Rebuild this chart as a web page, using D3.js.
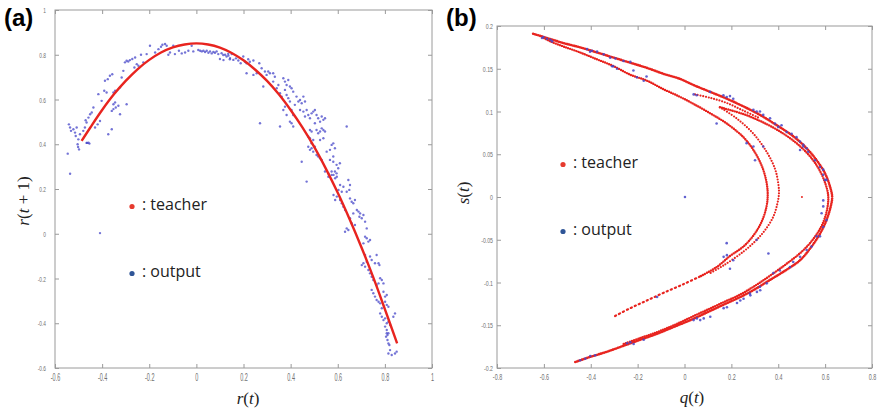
<!DOCTYPE html>
<html><head><meta charset="utf-8">
<script src="https://cdn.jsdelivr.net/npm/d3@7"></script>
<style>body{margin:0;background:#fff}svg{display:block}</style>
</head><body>
<svg id="fig" width="881" height="415"></svg>
<script>
// ---------- Panel (a): logistic-type return map r(t) -> r(t+1) ----------
const rTicks = [-0.6, -0.4, -0.2, 0, 0.2, 0.4, 0.6, 0.8, 1];

// teacher curve (red line)
const teacherA = [[-0.487,0.415],[-0.45,0.475],[-0.4,0.553],[-0.35,0.623],[-0.3,0.683],[-0.25,0.735],
  [-0.2,0.777],[-0.15,0.81],[-0.1,0.833],[-0.05,0.846],[0,0.851],[0.05,0.846],[0.1,0.832],[0.15,0.808],
  [0.2,0.775],[0.25,0.733],[0.3,0.683],[0.35,0.623],[0.4,0.553],[0.45,0.475],[0.5,0.388],[0.55,0.29],
  [0.6,0.183],[0.65,0.066],[0.7,-0.059],[0.75,-0.193],[0.8,-0.337],[0.852,-0.49]];

// network output (blue points)
const outputA = [
 [-0.541,0.489],[-0.536,0.475],[-0.532,0.460],[-0.522,0.467],[-0.515,0.452],[-0.508,0.475],[-0.512,0.437],
 [-0.501,0.422],[-0.494,0.445],[-0.504,0.400],[-0.498,0.377],[-0.546,0.358],[-0.536,0.268],[-0.466,0.406],
 [-0.458,0.407],[-0.454,0.403],[-0.480,0.460],[-0.473,0.475],[-0.466,0.497],[-0.470,0.507],[-0.458,0.519],
 [-0.451,0.534],[-0.444,0.542],[-0.437,0.564],[-0.430,0.475],[-0.419,0.489],[-0.409,0.504],[-0.416,0.624],
 [-0.402,0.594],[-0.391,0.639],[-0.381,0.631],[-0.388,0.684],[-0.376,0.691],[-0.367,0.706],[-0.357,0.713],
 [-0.352,0.631],[-0.345,0.639],[-0.359,0.549],[-0.352,0.557],[-0.342,0.564],[-0.359,0.467],[-0.374,0.445],
 [-0.324,0.654],[-0.317,0.698],[-0.310,0.728],[-0.303,0.766],[-0.296,0.773],[-0.289,0.770],[-0.282,0.776],
 [-0.272,0.781],[-0.260,0.788],[-0.253,0.758],[-0.263,0.743],[-0.246,0.751],[-0.235,0.800],[-0.225,0.766],
 [-0.211,0.803],[-0.197,0.840],[-0.175,0.810],[-0.161,0.825],[-0.150,0.836],[-0.144,0.845],[-0.133,0.848],
 [-0.126,0.840],[-0.119,0.800],[-0.112,0.810],[-0.098,0.840],[-0.091,0.803],[-0.074,0.818],[-0.062,0.806],
 [-0.048,0.810],[-0.034,0.818],[-0.020,0.840],[-0.013,0.815],[0.008,0.821],[0.016,0.818],[0.023,0.815],
 [0.030,0.818],[0.037,0.812],[0.044,0.818],[0.051,0.809],[0.058,0.815],[0.065,0.806],[0.072,0.812],
 [0.079,0.809],[0.086,0.815],[0.093,0.803],[0.100,0.781],[0.115,0.776],[0.122,0.800],[0.136,0.796],
 [0.143,0.785],[0.150,0.803],[-0.296,0.579],[-0.324,0.534],[-0.331,0.572],[-0.345,0.587],[-0.352,0.579],
 [-0.409,0.003],[-0.502,0.388],[-0.464,0.406],
 [0.107,0.807],[0.114,0.799],[0.128,0.792],[0.135,0.804],[0.142,0.780],[0.157,0.777],[0.168,0.784],
 [0.178,0.774],[0.188,0.762],[0.199,0.792],[0.206,0.769],[0.213,0.762],[0.220,0.780],[0.227,0.769],
 [0.242,0.774],[0.213,0.717],[0.242,0.710],[0.256,0.717],[0.267,0.762],[0.277,0.740],[0.291,0.725],
 [0.298,0.710],[0.305,0.725],[0.312,0.717],[0.326,0.717],[0.333,0.702],[0.284,0.658],[0.326,0.680],
 [0.341,0.650],[0.348,0.665],[0.355,0.628],[0.362,0.613],[0.369,0.695],[0.376,0.680],[0.383,0.665],
 [0.390,0.687],[0.397,0.658],[0.404,0.650],[0.411,0.635],[0.376,0.643],[0.383,0.620],[0.390,0.606],
 [0.397,0.591],[0.369,0.553],[0.376,0.568],[0.383,0.531],[0.404,0.553],[0.411,0.531],[0.418,0.576],
 [0.425,0.613],[0.433,0.591],[0.440,0.598],[0.447,0.583],[0.454,0.613],[0.461,0.591],[0.440,0.553],
 [0.454,0.546],[0.461,0.524],[0.468,0.553],[0.475,0.531],[0.482,0.516],[0.489,0.538],[0.496,0.546],
 [0.503,0.553],[0.510,0.531],[0.517,0.516],[0.525,0.501],[0.532,0.524],[0.539,0.509],[0.546,0.516],
 [0.503,0.494],[0.510,0.464],[0.517,0.449],[0.525,0.457],[0.532,0.471],[0.539,0.464],[0.546,0.457],
 [0.489,0.457],[0.482,0.464],[0.475,0.434],[0.411,0.479],[0.404,0.494],[0.397,0.501],[0.355,0.479],
 [0.270,0.494],[0.482,0.427],[0.496,0.419],[0.489,0.404],[0.475,0.389],[0.482,0.375],[0.489,0.382],
 [0.496,0.367],[0.503,0.389],[0.510,0.352],[0.517,0.345],[0.525,0.337],[0.532,0.330],[0.553,0.367],
 [0.567,0.375],[0.574,0.397],[0.581,0.404],[0.588,0.382],[0.581,0.345],[0.567,0.330],[0.581,0.322],
 [0.595,0.308],[0.602,0.293],[0.588,0.278],[0.595,0.270],[0.609,0.315],[0.447,0.322],[0.546,0.278],
 [0.560,0.255],[0.574,0.263],[0.638,0.479],[0.525,0.419],[0.539,0.427],
 [0.468,0.233],[0.560,0.270],[0.574,0.278],[0.582,0.263],[0.589,0.248],[0.596,0.255],[0.610,0.218],
 [0.603,0.196],[0.617,0.188],[0.624,0.210],[0.645,0.240],[0.652,0.218],[0.649,0.196],[0.638,0.188],
 [0.582,0.173],[0.589,0.151],[0.596,0.166],[0.610,0.151],[0.617,0.136],[0.624,0.121],[0.631,0.106],
 [0.652,0.158],[0.659,0.143],[0.666,0.136],[0.673,0.151],[0.681,0.106],[0.688,0.099],[0.692,0.076],
 [0.695,0.091],[0.702,0.069],[0.709,0.084],[0.716,0.054],[0.723,0.024],[0.666,0.091],[0.652,0.069],
 [0.659,0.047],[0.638,0.024],[0.631,0.009],[0.645,0.017],[0.673,0.039],[0.716,-0.013],[0.723,-0.020],
 [0.730,-0.035],[0.737,-0.028],[0.709,-0.043],[0.716,-0.095],[0.737,-0.102],[0.744,-0.117],[0.723,-0.125],
 [0.709,-0.132],[0.702,-0.140],[0.716,-0.147],[0.765,-0.095],[0.773,-0.132],[0.777,-0.140],[0.758,-0.132],
 [0.730,-0.162],[0.737,-0.177],[0.744,-0.192],[0.751,-0.207],[0.765,-0.229],[0.773,-0.222],[0.780,-0.199],
 [0.787,-0.207],[0.794,-0.222],[0.744,-0.251],[0.751,-0.266],[0.758,-0.281],[0.765,-0.296],[0.773,-0.304],
 [0.780,-0.311],[0.794,-0.259],[0.801,-0.281],[0.808,-0.274],[0.801,-0.304],[0.808,-0.318],[0.815,-0.326],
 [0.787,-0.333],[0.780,-0.356],[0.787,-0.371],[0.794,-0.386],[0.801,-0.378],[0.808,-0.400],[0.815,-0.393],
 [0.822,-0.408],[0.843,-0.356],[0.836,-0.371],[0.801,-0.415],[0.808,-0.430],[0.815,-0.445],[0.805,-0.460],
 [0.811,-0.475],[0.815,-0.490],[0.819,-0.497],[0.822,-0.520],[0.829,-0.542],[0.843,-0.535],[0.815,-0.535],
 [0.850,-0.527],[0.808,-0.445],[0.811,-0.453]];

// ---------- Panel (b): two-dimensional attractor q(t), s(t) ----------
const qTicks = [-0.8, -0.6, -0.4, -0.2, 0, 0.2, 0.4, 0.6, 0.8];
const sTicks = [-0.2, -0.15, -0.1, -0.05, 0, 0.05, 0.1, 0.15, 0.2];

// teacher strands (red)
const strandOuter = [[-0.646,0.191],[-0.587,0.186],[-0.516,0.180],[-0.445,0.175],[-0.373,0.169],[-0.302,0.163],
 [-0.231,0.157],[-0.160,0.151],[-0.089,0.144],[-0.018,0.138],[0.038,0.131],[0.109,0.123],[0.180,0.115],
 [0.251,0.106],[0.322,0.096],[0.393,0.084],[0.464,0.071],[0.521,0.057],[0.564,0.043],[0.599,0.028],
 [0.621,0.012],[0.630,0.000],[0.624,-0.011],[0.606,-0.027],[0.578,-0.043],[0.542,-0.058],[0.493,-0.074],
 [0.436,-0.085],[0.365,-0.097],[0.294,-0.109],[0.238,-0.117],[0.167,-0.126],[0.096,-0.135],[0.025,-0.144],
 [-0.046,-0.152],[-0.117,-0.160],[-0.189,-0.167],[-0.260,-0.174],[-0.331,-0.181],[-0.402,-0.187],[-0.466,-0.193]];
const strandOuter2 = [[0.151,0.105],[0.251,0.097],[0.322,0.089],[0.393,0.079],[0.464,0.066],[0.521,0.052],
 [0.564,0.037],[0.594,0.021],[0.613,0.002],[0.608,-0.015],[0.588,-0.032],[0.550,-0.049],[0.500,-0.064],
 [0.436,-0.078],[0.365,-0.092],[0.294,-0.105],[0.238,-0.114],[0.167,-0.123],[0.096,-0.132],[0.025,-0.141],
 [-0.046,-0.150],[-0.117,-0.158],[-0.189,-0.165],[-0.260,-0.172]];
const strandInner = [[-0.600,0.186],[-0.572,0.182],[-0.516,0.176],[-0.445,0.169],[-0.373,0.161],[-0.302,0.153],
 [-0.231,0.143],[-0.160,0.136],[-0.089,0.126],[-0.018,0.117],[0.038,0.109],[0.109,0.098],[0.180,0.086],
 [0.251,0.070],[0.294,0.055],[0.329,0.037],[0.348,0.020],[0.355,0.004],[0.350,-0.011],[0.329,-0.029],
 [0.294,-0.045],[0.251,-0.058],[0.194,-0.069],[0.137,-0.082],[0.066,-0.093]];
const strandInnerTail = [[0.066,-0.093],[-0.005,-0.102],[-0.089,-0.112],[-0.160,-0.121],[-0.231,-0.130],[-0.302,-0.140]];
const strandInner2 = [[0.151,0.105],[0.222,0.092],[0.294,0.074],[0.350,0.053],[0.386,0.033],[0.400,0.016],
 [0.403,0.004],[0.396,-0.008],[0.379,-0.023],[0.343,-0.039],[0.301,-0.052],[0.251,-0.064],[0.167,-0.080],
 [0.110,-0.089]];
const strandFold = [[0.045,0.120],[0.109,0.116],[0.180,0.110],[0.251,0.101],[0.322,0.092]];
const teacherLoneB = [[0.501,0.000]];

// network output (blue points)
const outputB = [
 [-0.608,0.186],[-0.587,0.185],[-0.572,0.184],[-0.565,0.182],[-0.602,0.187],[-0.416,0.173],[-0.403,0.170],
 [-0.395,0.171],[-0.373,0.170],[-0.345,0.167],[-0.317,0.163],[-0.304,0.153],[-0.295,0.162],[-0.260,0.159],
 [-0.231,0.158],[-0.309,0.153],[-0.288,0.150],[-0.218,0.148],[-0.203,0.140],[-0.174,0.136],[-0.162,0.141],
 [0.039,0.120],[0.052,0.119],[0.109,0.123],[0.166,0.119],[0.180,0.117],[0.194,0.118],[0.208,0.115],
 [0.294,0.102],[0.308,0.100],[0.322,0.100],[0.336,0.096],[0.365,0.092],[0.386,0.086],[0.400,0.082],
 [0.414,0.084],[0.436,0.076],[0.457,0.074],[0.478,0.070],[0.493,0.065],[0.507,0.061],[0.521,0.057],
 [0.528,0.053],[0.557,0.043],[0.578,0.035],[0.592,0.026],[0.599,0.020],[0.592,-0.004],[0.592,-0.011],
 [0.585,-0.019],[0.592,-0.035],[0.564,-0.046],[0.542,-0.058],[0.521,-0.062],[0.493,-0.070],[0.464,-0.076],
 [0.450,-0.082],[0.407,-0.086],[0.351,-0.101],[0.322,-0.105],[0.279,-0.113],[0.002,0.000],[0.180,-0.054],
 [0.265,0.063],[0.336,0.059],[0.137,0.086],[0.592,0.032],[0.606,0.020],[0.606,-0.027],[0.578,-0.046],
 [0.379,-0.089],[0.358,-0.066],[0.308,-0.050],[0.208,-0.074],[0.194,-0.084],[0.294,0.059],[0.301,0.043],
 [0.493,0.055],[0.507,0.059],[-0.445,-0.191],[-0.423,-0.189],[-0.402,-0.186],[-0.381,-0.185],[-0.245,-0.171],
 [-0.231,-0.170],[-0.217,-0.172],[-0.174,-0.167],[0.039,-0.144],[0.053,-0.142],[0.067,-0.144],[0.082,-0.142],
 [0.110,-0.140],[0.167,-0.130],[0.181,-0.129],[0.224,-0.124],[0.238,-0.121],[0.252,-0.119],[0.281,-0.115],
 [0.309,-0.111],[0.323,-0.109],[-0.117,-0.117],[0.167,-0.070],[0.181,-0.068]];

// ---------- drawing ----------
const svg = d3.select("#fig");
const RED = "#e8241f", BLUE = "#4646c8";

const xa = d3.scaleLinear([-0.6, 1], [55, 432]);
const ya = d3.scaleLinear([-0.6, 1], [368, 10]);
const xb = d3.scaleLinear([-0.8, 0.8], [497, 872]);
const yb = d3.scaleLinear([-0.2, 0.2], [368, 26]);

const fmt = d => String(d);

function squeeze(sel, k) {
  sel.each(function () {
    const w = this.getComputedTextLength();
    d3.select(this).attr("textLength", w * k).attr("lengthAdjust", "spacingAndGlyphs");
  });
}

function frame(x, y, xt, yt, opt) {
  const g = svg.append("g");
  const [x0, x1] = x.range(), [y0, y1] = y.range();
  const style = s => {
    s.select(".domain").remove();
    s.selectAll("line").attr("stroke", "#9a9a9a");
    s.selectAll("text").attr("fill", "#707070").attr("font-family", "Liberation Sans, Arial, sans-serif");
  };
  g.append("g").attr("transform", `translate(0,${y0})`)
    .call(d3.axisBottom(x).tickValues(xt).tickFormat(fmt).tickSize(-4).tickPadding(opt.xpad))
    .call(style).call(s => s.selectAll("text").attr("font-size", opt.xfs).call(squeeze, opt.xk));
  g.append("g").attr("transform", `translate(0,${y1})`)
    .call(d3.axisTop(x).tickValues(xt).tickFormat("").tickSize(-4)).call(style);
  g.append("g").attr("transform", `translate(${x0},0)`)
    .call(d3.axisLeft(y).tickValues(yt).tickFormat(fmt).tickSize(-4).tickPadding(opt.ypad))
    .call(style).call(s => s.selectAll("text").attr("font-size", opt.yfs).call(squeeze, opt.yk));
  g.append("g").attr("transform", `translate(${x1},0)`)
    .call(d3.axisRight(y).tickValues(yt).tickFormat("").tickSize(-4)).call(style);
  g.append("rect").attr("x", x0).attr("y", y1).attr("width", x1 - x0).attr("height", y0 - y1)
    .attr("fill", "none").attr("stroke", "#9a9a9a").attr("stroke-width", 1);
}

frame(xa, ya, rTicks, rTicks, {xpad: 6, ypad: 9, xfs: 10, yfs: 8, xk: 0.55, yk: 0.6});
frame(xb, yb, qTicks, sTicks, {xpad: 6, ypad: 4, xfs: 9, yfs: 8, xk: 0.6, yk: 0.65});

// panel (a) marks
svg.append("g").selectAll("circle").data(outputA).join("circle")
  .attr("cx", d => xa(d[0])).attr("cy", d => ya(d[1])).attr("r", 1.2)
  .attr("fill", BLUE).attr("fill-opacity", 0.75);
svg.append("path").datum(teacherA)
  .attr("d", d3.line().x(d => xa(d[0])).y(d => ya(d[1])).curve(d3.curveCatmullRom.alpha(0.5)))
  .attr("fill", "none").attr("stroke", RED).attr("stroke-width", 2.4);

// panel (b) marks: teacher strands drawn as runs of dots
const lineB = d3.line().x(d => xb(d[0])).y(d => yb(d[1])).curve(d3.curveCatmullRom.alpha(0.5));
const strands = [
  {data: strandOuter, dash: "0 1.8", w: 2.6},
  {data: strandOuter2, dash: "0 2.2", w: 2.4},
  {data: strandInner, dash: "0 2.2", w: 2.4},
  {data: strandInnerTail, dash: "1.2 3.2", w: 2.2},
  {data: strandInner2, dash: "0 2.8", w: 2.2},
  {data: strandFold, dash: "0 2.8", w: 2.2}
];
svg.append("g").selectAll("path").data(strands).join("path")
  .attr("d", d => lineB(d.data)).attr("fill", "none").attr("stroke", RED)
  .attr("stroke-width", d => d.w).attr("stroke-linecap", "round").attr("stroke-dasharray", d => d.dash);
svg.append("g").selectAll("circle").data(teacherLoneB).join("circle")
  .attr("cx", d => xb(d[0])).attr("cy", d => yb(d[1])).attr("r", 1).attr("fill", RED);
svg.append("g").selectAll("circle").data(outputB).join("circle")
  .attr("cx", d => xb(d[0])).attr("cy", d => yb(d[1])).attr("r", 1.3)
  .attr("fill", BLUE).attr("fill-opacity", 0.85);

// panel letters
svg.append("text").attr("x", 4).attr("y", 26).text("(a)")
  .attr("font-family", "Liberation Sans, Arial, sans-serif").attr("font-weight", "bold").attr("font-size", 24);
svg.append("text").attr("x", 446).attr("y", 26).text("(b)")
  .attr("font-family", "Liberation Sans, Arial, sans-serif").attr("font-weight", "bold").attr("font-size", 24);

// axis titles, math style: italic variables, upright symbols
function mathTitle(x, y, rot, parts) {
  const t = svg.append("text").attr("transform", `translate(${x},${y}) rotate(${rot})`)
    .attr("text-anchor", "middle").attr("font-family", "Liberation Serif, Times New Roman, serif")
    .attr("font-size", 17).attr("fill", "#222");
  parts.forEach(([s, it]) => t.append("tspan").text(s).attr("font-style", it ? "italic" : "normal"));
}
mathTitle(248, 404, 0, [["r", 1], ["(", 0], ["t", 1], [")", 0]]);
mathTitle(29, 201, -90, [["r", 1], ["(", 0], ["t", 1], [" + 1)", 0]]);
mathTitle(692, 403, 0, [["q", 1], ["(", 0], ["t", 1], [")", 0]]);
mathTitle(469, 193, -90, [["s", 1], ["(", 0], ["t", 1], [")", 0]]);

// legends
function legend(x, y, color, label) {
  svg.append("circle").attr("cx", x).attr("cy", y - 3.5).attr("r", 2.6).attr("fill", color);
  svg.append("text").attr("x", x + 10).attr("y", y).text(label)
    .attr("font-family", "Open Sans, sans-serif").attr("font-size", 16).attr("fill", "#222");
}
legend(132, 210, "#e63a2e", ": teacher");
legend(132, 277, "#2f5597", ": output");
legend(563, 168, "#e63a2e", ": teacher");
legend(563, 235, "#2f5597", ": output");
</script>
</body></html>
